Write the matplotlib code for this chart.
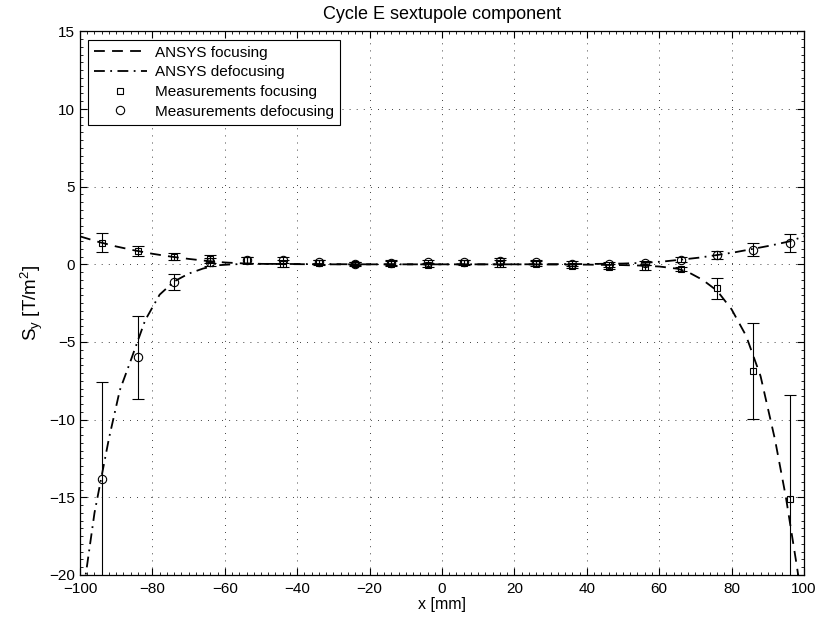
import matplotlib
matplotlib.use('Agg')
from matplotlib import pyplot as plt
from matplotlib.lines import Line2D
from matplotlib.ticker import AutoMinorLocator
import numpy as np

plt.rcParams['font.family'] = ['Liberation Sans', 'DejaVu Sans']
plt.rcParams['font.size'] = 11
plt.rcParams['mathtext.fontset'] = 'custom'
plt.rcParams['mathtext.rm'] = 'Liberation Sans'
plt.rcParams['mathtext.it'] = 'Liberation Sans:italic'

# ANSYS curves
ansys_foc_x = [-100, -95, -90, -85, -80, -75, -70, -65, -60, -55, -50, -40, -30, -20, -10, 0,
               10, 20, 30, 40, 50, 55, 60, 65, 68, 72, 76, 80, 84, 88, 92, 95, 98, 100]
ansys_foc_y = [1.8, 1.45, 1.15, 0.9, 0.68, 0.5, 0.35, 0.22, 0.12, 0.06, 0.03, 0.01, 0.0, 0.0, 0.0, 0.0,
               0.0, 0.0, -0.01, -0.02, -0.05, -0.08, -0.14, -0.28, -0.5, -1.0, -1.7, -2.9, -4.6, -7.2,
               -11.3, -15.0, -19.4, -22.5]
ansys_def_x = [-100, -98, -96, -94, -92, -89, -86, -82, -78, -74, -70, -66, -62, -58, -55, -50, -40, -30,
               -20, -10, 0, 10, 20, 30, 40, 50, 56, 61, 66, 71, 76, 81, 86, 91, 96, 100]
ansys_def_y = [-22.5, -19.3, -16.0, -13.6, -11.2, -8.1, -6.2, -3.6, -1.95, -1.1, -0.6, -0.27, -0.06, 0.0,
               0.02, 0.03, 0.02, 0.01, 0.0, 0.0, 0.0, 0.0, 0.0, 0.01, 0.02, 0.05, 0.1, 0.18, 0.3, 0.43,
               0.6, 0.78, 1.0, 1.22, 1.48, 1.8]

# measurements
meas_x = [-94, -84, -74, -64, -54, -44, -34, -24, -14, -4, 6, 16, 26, 36, 46, 56, 66, 76, 86, 96]
meas_foc_y = [1.4, 0.86, 0.5, 0.35, 0.3, 0.05, 0.1, 0.0, 0.05, -0.05, 0.1, 0.05, 0.05, -0.1, -0.15,
              -0.2, -0.3, -1.55, -6.85, -15.1]
meas_foc_err = [0.6, 0.35, 0.2, 0.25, 0.2, 0.2, 0.15, 0.12, 0.15, 0.15, 0.15, 0.2, 0.15, 0.15, 0.15,
                0.15, 0.15, 0.7, 3.1, 6.7]
meas_def_y = [-13.85, -5.97, -1.14, 0.15, 0.3, 0.3, 0.15, 0.05, 0.1, 0.15, 0.15, 0.2, 0.15, 0.05, 0.0,
              0.08, 0.3, 0.58, 0.95, 1.37]
meas_def_err = [6.25, 2.67, 0.5, 0.25, 0.2, 0.2, 0.15, 0.12, 0.15, 0.15, 0.15, 0.2, 0.15, 0.15, 0.15,
                0.15, 0.15, 0.25, 0.4, 0.6]

fig = plt.figure(figsize=(8.19, 6.22), dpi=100)
ax = fig.add_axes([0.0977, 0.0756, 0.884, 0.874])

dash_f = (6, 4)
dash_d = (6, 3, 1, 3)
ax.plot(ansys_foc_x, ansys_foc_y, color='k', lw=1.3, dashes=dash_f)
ax.plot(ansys_def_x, ansys_def_y, color='k', lw=1.3, dashes=dash_d)
ax.errorbar(meas_x, meas_foc_y, yerr=meas_foc_err, fmt='s', ms=5, mfc='none', mec='k', mew=0.8,
            ecolor='k', elinewidth=0.8, capsize=4.5, capthick=0.8)
ax.errorbar(meas_x, meas_def_y, yerr=meas_def_err, fmt='o', ms=6, mfc='none', mec='k', mew=0.8,
            ecolor='k', elinewidth=0.8, capsize=4.5, capthick=0.8)

ax.set_xlim(-100, 100)
ax.set_ylim(-20, 15)
ax.set_xticks(np.arange(-100, 101, 20))
ax.set_yticks(np.arange(-20, 16, 5))
ax.xaxis.set_minor_locator(AutoMinorLocator(10))
ax.yaxis.set_minor_locator(AutoMinorLocator(10))
ax.tick_params(which='both', direction='in', top=True, right=True, labelsize=11)
ax.tick_params(axis='x', pad=5)
ax.tick_params(which='major', length=5, width=0.8)
ax.tick_params(which='minor', length=2, width=0.6)
ax.grid(True, which='major', color='k', linestyle=(0, (1, 7.5)), linewidth=0.6)
for s in ax.spines.values():
    s.set_linewidth(0.9)

ax.set_title('Cycle E sextupole component', fontsize=13, pad=9)
ax.set_xlabel('x [mm]', fontsize=11.5, labelpad=1)
ax.set_ylabel(r'S$_\mathrm{y}$ [T/m$^\mathrm{2}$]', fontsize=13.5, labelpad=3)

handles = [
    Line2D([], [], color='k', lw=1.3, dashes=dash_f),
    Line2D([], [], color='k', lw=1.3, dashes=dash_d),
    Line2D([], [], ls='none', marker='s', ms=5, mfc='none', mec='k', mew=0.8),
    Line2D([], [], ls='none', marker='o', ms=6, mfc='none', mec='k', mew=0.8),
]
labels = ['ANSYS focusing', 'ANSYS defocusing', 'Measurements focusing', 'Measurements defocusing']
leg = ax.legend(handles, labels, loc='upper left', bbox_to_anchor=(0.0105, 0.985), fontsize=11,
                frameon=True, fancybox=False, edgecolor='k', framealpha=1, handlelength=3.5,
                borderpad=0.4, labelspacing=0.37, handletextpad=0.5, borderaxespad=0)
leg.get_frame().set_linewidth(0.8)

fig.savefig('out.png', dpi=100)
